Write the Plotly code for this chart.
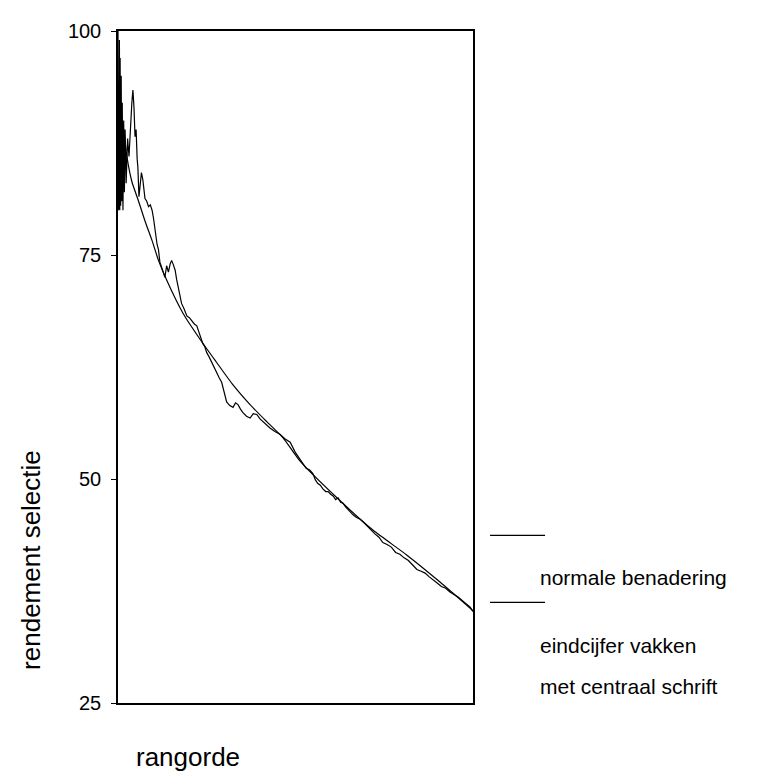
import plotly.graph_objects as go

# rank expressed as percentage of the ordered list (0 = best, 100 = last)
smooth_rank = [0, 1.6, 2.5, 3.9, 5.8, 7.6, 9.6, 11.4, 13.7, 18.3, 23.1, 27.8, 32.4,
               37.2, 41.9, 46.5, 51.3, 62.5, 71.8, 81.4, 90.7, 100]
smooth_yield = [92.0, 89.0, 86.0, 83.2, 81.0, 78.8, 76.6, 74.4, 72.2, 68.5, 65.6, 63.0, 60.5,
                58.3, 56.4, 54.6, 52.0, 47.6, 44.3, 41.5, 38.5, 35.3]

emp_rank = [0, 0.1, 0.2, 0.3, 0.4, 0.5, 0.6, 0.75, 0.9, 1.05, 1.2, 1.4, 1.6, 1.8, 2.0, 2.3,
            2.7, 3.1, 3.5, 3.9, 4.2, 4.5, 4.8, 5.1, 5.4, 5.6, 5.9, 6.2, 6.6, 7.0, 7.3, 7.6,
            8.1, 8.6, 9.1, 9.6, 10.0, 10.4, 10.7, 11.0, 11.4, 11.8, 12.5, 13.2, 13.7, 14.2,
            14.7, 15.1, 15.6, 16.1, 16.5, 16.9, 17.4, 17.9, 18.6, 19.4, 20.1, 20.8, 21.5,
            22.2, 22.7, 23.1, 23.5, 23.9, 24.4, 25.0, 25.7, 26.4, 27.1, 27.8, 28.5, 29.2,
            29.9, 30.6, 31.5, 32.4, 33.1, 33.8, 34.5, 35.2, 36.2, 37.2, 38.1, 39.1, 40.0,
            40.8, 41.8, 42.8, 44.2, 45.6, 47.0, 48.5, 49.9, 51.3, 52.1, 53.0, 54.0, 54.9,
            55.6, 56.3, 57.0, 57.7, 58.5, 59.2, 59.9, 60.6, 61.3, 62.0, 62.7, 63.4, 64.1,
            64.8, 65.5, 66.2, 67.2, 68.2, 69.1, 70.1, 71.2, 72.3, 73.5, 74.6, 75.8, 77.0,
            78.2, 79.4, 80.6, 81.8, 83.0, 84.2, 85.4, 86.5, 87.6, 88.7, 89.9, 91.1, 92.3,
            93.5, 94.7, 95.9, 97.1, 98.3, 99.2, 100]
emp_yield = [100, 80, 100, 80.5, 99, 80, 97, 80.5, 95, 81, 92, 80, 90, 82, 89, 83,
             88, 86, 89.5, 92, 93.4, 91.5, 88.2, 89.0, 85.7, 84.8, 81.5, 83.0, 84.2, 83.4, 82.4, 81.3,
             81.0, 80.4, 80.6, 80.0, 79.1, 77.8, 77.2, 76.2, 75.6, 74.2, 73.4, 72.5, 73.8, 73.1,
             74.0, 74.4, 73.9, 73.3, 72.3, 71.4, 70.7, 69.6, 69.0, 68.2, 68.0, 67.6, 67.3,
             67.1, 66.5, 66.2, 65.6, 65.1, 64.8, 64.1, 63.6, 63.0, 62.5, 61.9, 61.3, 60.8,
             59.6, 58.6, 58.2, 58.0, 58.5, 58.3, 57.8, 57.4, 57.0, 56.8, 57.3, 57.2, 56.7,
             56.4, 56.1, 55.7, 55.3, 55.0, 54.5, 54.1, 53.0, 52.2, 51.8, 51.2, 51.0, 50.6,
             49.9, 49.5, 49.3, 48.9, 48.6, 48.6, 48.3, 48.1, 47.7, 47.9, 47.4, 47.3, 46.9,
             46.6, 46.4, 46.0, 45.7, 45.5, 45.2, 44.8, 44.3, 43.9, 43.5, 42.9, 42.7, 42.4,
             41.8, 41.6, 41.2, 40.9, 40.4, 39.9, 39.7, 39.5, 39.1, 38.8, 38.4, 38.0, 37.8,
             37.4, 37.1, 36.8, 36.4, 36.0, 35.7, 35.2]

y_ticks = [25, 50, 75, 100]

legend_labels = ["normale benadering", "eindcijfer vakken", "met centraal schrift"]

FONT = "Liberation Sans, Arial, sans-serif"

fig = go.Figure()
fig.add_trace(go.Scatter(x=smooth_rank, y=smooth_yield, mode="lines",
                         line=dict(color="black", width=1.2, shape="spline", smoothing=0.6),
                         showlegend=False))
fig.add_trace(go.Scatter(x=emp_rank, y=emp_yield, mode="lines",
                         line=dict(color="black", width=1.2),
                         showlegend=False))

fig.update_layout(
    width=749, height=768,
    margin=dict(l=110, r=284, t=12, b=73),
    plot_bgcolor="white", paper_bgcolor="white",
    font=dict(family=FONT, size=20, color="black"),
    showlegend=False,
)
fig.update_xaxes(range=[0, 100], showline=True, linecolor="black", linewidth=1.5,
                 mirror=True, showticklabels=False, ticks="", showgrid=False, zeroline=False)
fig.update_yaxes(range=[25, 100], tickvals=y_ticks, showline=True, linecolor="black",
                 linewidth=1.5, mirror=True, ticks="outside", ticklen=5, tickcolor="black",
                 ticklabelstandoff=6,
                 showgrid=False, zeroline=False, tickfont=dict(size=20, family=FONT))

# axis titles
fig.add_annotation(text="rendement selectie", xref="paper", yref="paper",
                   x=-0.245, y=0.213, textangle=-90, showarrow=False,
                   font=dict(size=26, family=FONT), xanchor="center", yanchor="middle")
fig.add_annotation(text="rangorde", xref="paper", yref="paper",
                   x=0.045, y=-0.081, showarrow=False,
                   font=dict(size=26, family=FONT), xanchor="left", yanchor="middle")

# legend drawn as in the original
for yl in [0.2493, 0.1498]:
    fig.add_shape(type="line", xref="paper", yref="paper", x0=1.048, x1=1.203,
                  y0=yl, y1=yl, line=dict(color="black", width=1.2))
for lbl, yp in zip(legend_labels, [0.1874, 0.0849, 0.0239]):
    fig.add_annotation(text=lbl, xref="paper", yref="paper", x=1.183, y=yp,
                       showarrow=False, xanchor="left", yanchor="middle",
                       font=dict(size=21, family=FONT))

fig.write_html("out.html")
